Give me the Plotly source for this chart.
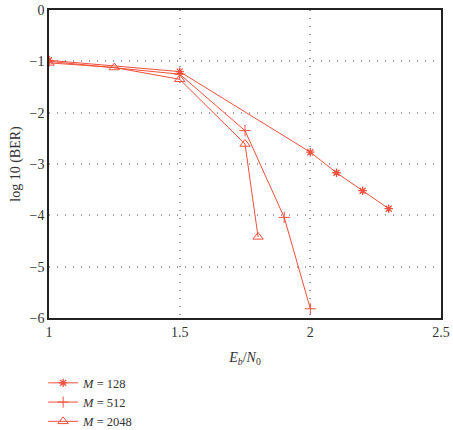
import plotly.graph_objects as go

x128 = [1, 1.5, 2, 2.1, 2.2, 2.3]
y128 = [-0.98, -1.2, -2.77, -3.17, -3.52, -3.87]
x512 = [1, 1.5, 1.75, 1.9, 2]
y512 = [-1.0, -1.25, -2.35, -4.04, -5.82]
x2048 = [1, 1.25, 1.5, 1.75, 1.8]
y2048 = [-1.03, -1.12, -1.35, -2.61, -4.42]
names = ["<i>M</i> = 128", "<i>M</i> = 512", "<i>M</i> = 2048"]
red = "#f0503c"

fig = go.Figure()
fig.add_trace(go.Scatter(x=x128, y=y128, name=names[0], mode="lines+markers",
                         line=dict(color=red, width=1),
                         marker=dict(symbol="asterisk-open", size=7, color=red, line=dict(color=red, width=1.3))))
fig.add_trace(go.Scatter(x=x512, y=y512, name=names[1], mode="lines+markers",
                         line=dict(color=red, width=1),
                         marker=dict(symbol="cross-thin-open", size=8, color=red, line=dict(color=red, width=1))))
fig.add_trace(go.Scatter(x=x2048, y=y2048, name=names[2], mode="lines+markers",
                         line=dict(color=red, width=1),
                         marker=dict(symbol="triangle-up-open", size=9, color=red, line=dict(color=red, width=1))))

serif = "Liberation Serif, Times New Roman, serif"
fig.update_layout(
    width=453, height=430,
    margin=dict(l=49, r=12, t=10, b=112, autoexpand=False),
    paper_bgcolor="white", plot_bgcolor="white",
    font=dict(family=serif, size=14, color="#333"),
    showlegend=True,
    legend=dict(x=-0.015, y=-0.163, xanchor="left", yanchor="top",
                bgcolor="rgba(0,0,0,0)", tracegroupgap=0,
                font=dict(family=serif, size=12.5, color="#333"),
                itemwidth=30),
)
fig.update_xaxes(range=[1, 2.5], tickvals=[1, 1.5, 2, 2.5], ticktext=["1", "1.5", "2", "2.5"],
                 showgrid=True, gridcolor="#a0a0a0", griddash="1px,7px", gridwidth=1.5,
                 showline=True, linecolor="#222", linewidth=1.5, mirror=True,
                 zeroline=False, ticks="",
                 title=dict(text="<i>E</i><sub><i>b</i></sub>/<i>N</i><sub>0</sub>", standoff=14,
                            font=dict(size=14)))
fig.update_yaxes(range=[-6, 0], tickvals=[0, -1, -2, -3, -4, -5, -6],
                 ticktext=["0", "\u22121", "\u22122", "\u22123", "\u22124", "\u22125", "\u22126"],
                 showgrid=True, gridcolor="#a0a0a0", griddash="1px,7px", gridwidth=1.5,
                 showline=True, linecolor="#222", linewidth=1.5, mirror=True,
                 zeroline=False, ticks="",
                 title=dict(text="log 10 (BER)", standoff=6, font=dict(size=14)))
fig.write_html("out.html")
